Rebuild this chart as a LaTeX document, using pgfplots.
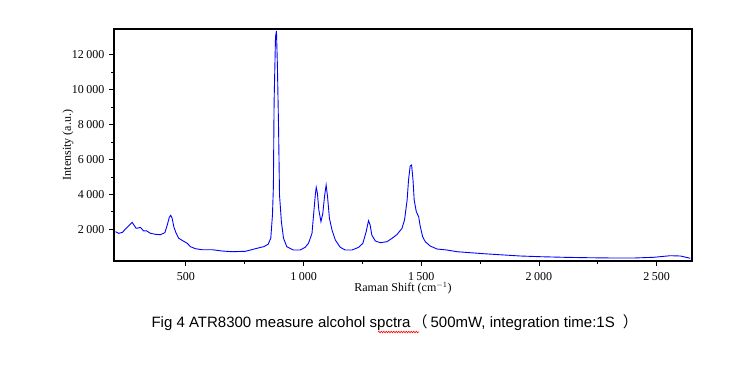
\documentclass[border=0pt]{standalone}
\usepackage{pgfplots}
\pgfplotsset{compat=1.18}
\usepackage{fontspec}
\setmainfont{Liberation Serif}
\newfontfamily\capfont{Liberation Sans}
\newfontfamily\cjk{Noto Sans CJK SC}
\usetikzlibrary{decorations.pathmorphing}
\begin{document}
\begin{tikzpicture}
\useasboundingbox (0,0) rectangle (756bp,372bp);
\begin{axis}[
  at={(114bp,111bp)}, anchor=south west,
  width=578bp, height=232bp, scale only axis,
  xmin=195, xmax=2650, ymin=185, ymax=13472,
  xtick={500,1000,...,2500}, ytick={2000,4000,...,12000},
  scaled ticks=false,
  minor x tick num=1, minor y tick num=1,
  tick align=outside, xtick pos=bottom, ytick pos=left,
  major tick length=5bp, minor tick length=3bp,
  line width=2.6bp,
  tick style={black, line width=0.8bp},
  xticklabel style={font=\fontsize{12bp}{14bp}\selectfont, yshift=-2bp},
  yticklabel style={font=\fontsize{12bp}{14bp}\selectfont},
  /pgf/number format/.cd, 1000 sep={\kern2.5bp}, min exponent for 1000 sep=0, assume math mode=true, /pgfplots/.cd,
  xlabel={Raman Shift (cm$^{-1}$)},
  ylabel={Intensity (a.u.)},
  xlabel style={at={(axis description cs:0.5,-0.1164)}, anchor=center, font=\fontsize{12bp}{14bp}\selectfont},
  ylabel style={at={(axis description cs:-0.0796,0.5)}, anchor=center, font=\fontsize{12bp}{14bp}\selectfont},
]
\addplot[blue, line width=0.9bp, mark=none] table {
x y
201 1863
215 1771
230 1820
250 2100
272 2401
289 2057
300 2080
307 2115
321 1903
332 1920
350 1771
371 1714
392 1691
411 1806
420 2189
430 2687
436 2802
442 2630
449 2149
459 1771
470 1485
487 1347
506 1198
520 1003
541 889
569 832
612 832
654 757
697 717
753 740
796 889
816 960
831 1003
850 1150
861 1500
868 2819
872 4440
875 9307
881 13030
885 13356
889 11410
894 7784
898 3964
906 2435
915 1485
929 1003
957 815
986 815
1007 969
1021 1198
1036 1771
1042 2722
1050 3964
1054 4405
1059 4062
1065 3105
1074 2435
1082 2916
1089 3867
1096 4537
1102 3867
1110 2630
1121 1960
1135 1387
1156 969
1177 815
1206 815
1234 969
1252 1198
1266 1863
1276 2493
1283 2246
1290 1674
1305 1330
1326 1233
1354 1290
1376 1485
1397 1700
1418 2050
1429 2533
1440 3678
1446 4823
1453 5625
1459 5682
1465 4823
1470 3678
1479 3008
1489 2722
1496 2149
1506 1576
1517 1290
1538 1044
1567 872
1609 815
1652 717
1708 660
1765 603
1833 545
1921 471
2006 431
2105 397
2204 374
2317 356
2402 356
2487 397
2558 488
2601 471
2643 339
};
\end{axis}
\node[font=\capfont\fontsize{15bp}{18bp}\selectfont, anchor=center, inner sep=0pt] at (394.7bp,49.3bp)
  {Fig 4 ATR8300 measure alcohol spctra\hspace{2bp}{\cjk （}\hspace{3bp}500mW, integration time:1S\hspace{8bp}{\cjk ）}};
\draw[red, line width=0.6bp, decorate, decoration={snake, segment length=2.5bp, amplitude=0.8bp}] (378bp,40bp) -- (419bp,40bp);
\end{tikzpicture}
\end{document}
